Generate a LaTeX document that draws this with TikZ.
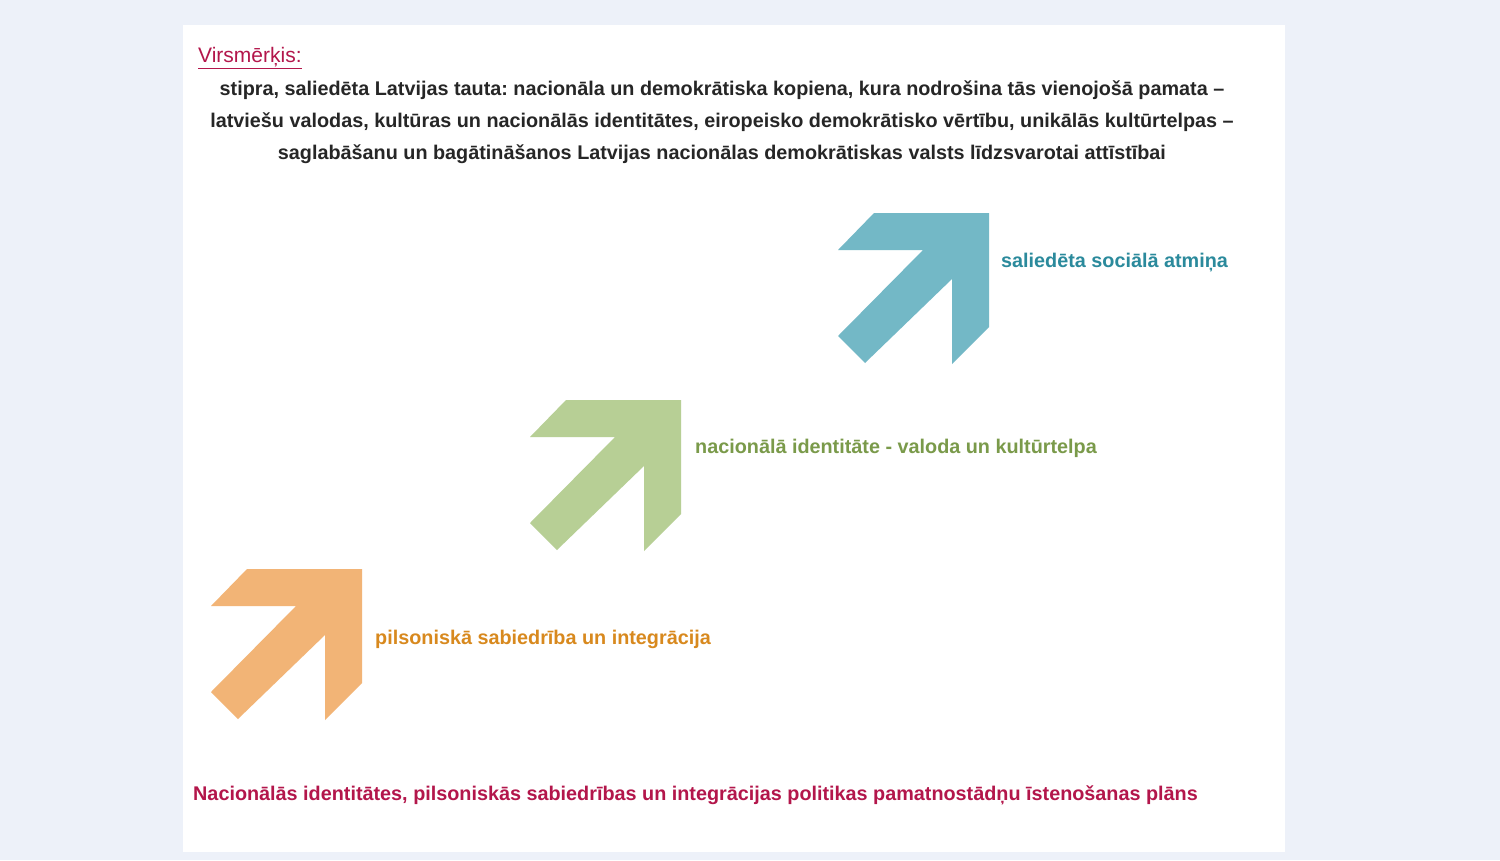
\documentclass[tikz,border=0pt]{standalone}
\usepackage{fontspec}
\setmainfont{Liberation Sans}
\usepackage{xcolor}
\usetikzlibrary{positioning}
\frenchspacing
\definecolor{pagebg}{HTML}{EDF1F9}
\definecolor{goalred}{HTML}{B3164B}
\definecolor{tealfill}{HTML}{73B8C6}
\definecolor{tealtext}{HTML}{2B8A9C}
\definecolor{greenfill}{HTML}{B7CF95}
\definecolor{greentext}{HTML}{7A9A4A}
\definecolor{orangefill}{HTML}{F2B476}
\definecolor{orangetext}{HTML}{D8891E}
\tikzset{
		goaltext/.style={font=\fontsize{19.8}{32}\selectfont\bfseries, align=center, text=black!85},
		steplabel/.style={anchor=west, font=\fontsize{19.8}{22}\selectfont\bfseries, inner sep=0pt}
	}
% one bent arrow, (#1) is its top right corner
\newcommand{\stepArrow}[2]{
		\fill[#2, shift={(#1)}] (0,0) -- (0,114) -- (-37,151) -- (-37,66) -- (-124,150) -- (-151,123) -- (-66,37) -- (-151,37) -- (-115,0) -- cycle;
	}
\begin{document}
\begin{tikzpicture}[x=1pt, y=-1pt]
		\fill[pagebg] (0,0) rectangle (1500,860);
		\fill[white] (183,25) rectangle (1285,852);
		\useasboundingbox (0,0) rectangle (1500,860);
		\node[anchor=west, inner sep=0pt, text=goalred, font=\fontsize{21}{24}\selectfont] (head) at (198,58) {\underline{Virsmērķis:}};
		\node[goaltext] (goal) at (722,122) {stipra, saliedēta Latvijas tauta: nacionāla un demokrātiska kopiena, kura nodrošina tās vienojošā pamata –\\ latviešu valodas, kultūras un nacionālās identitātes, eiropeisko demokrātisko vērtību, unikālās kultūrtelpas –\\ saglabāšanu un bagātināšanos Latvijas nacionālas demokrātiskas valsts līdzsvarotai attīstībai};
		\stepArrow{989,213}{tealfill}
		\node[steplabel, text=tealtext] (memory) at (1001,263) {saliedēta sociālā atmiņa};
		\stepArrow{681,400}{greenfill}
		\node[steplabel, text=greentext] (identity) at (695,448) {nacionālā identitāte - valoda un kultūrtelpa};
		\stepArrow{362,569}{orangefill}
		\node[steplabel, text=orangetext] (society) at (375,639) {pilsoniskā sabiedrība un integrācija};
		\node[anchor=west, inner sep=0pt, text=goalred, font=\fontsize{19.8}{22}\selectfont\bfseries] (plan) at (193,795) {Nacionālās identitātes, pilsoniskās sabiedrības un integrācijas politikas pamatnostādņu īstenošanas plāns};
	\end{tikzpicture}
\end{document}
